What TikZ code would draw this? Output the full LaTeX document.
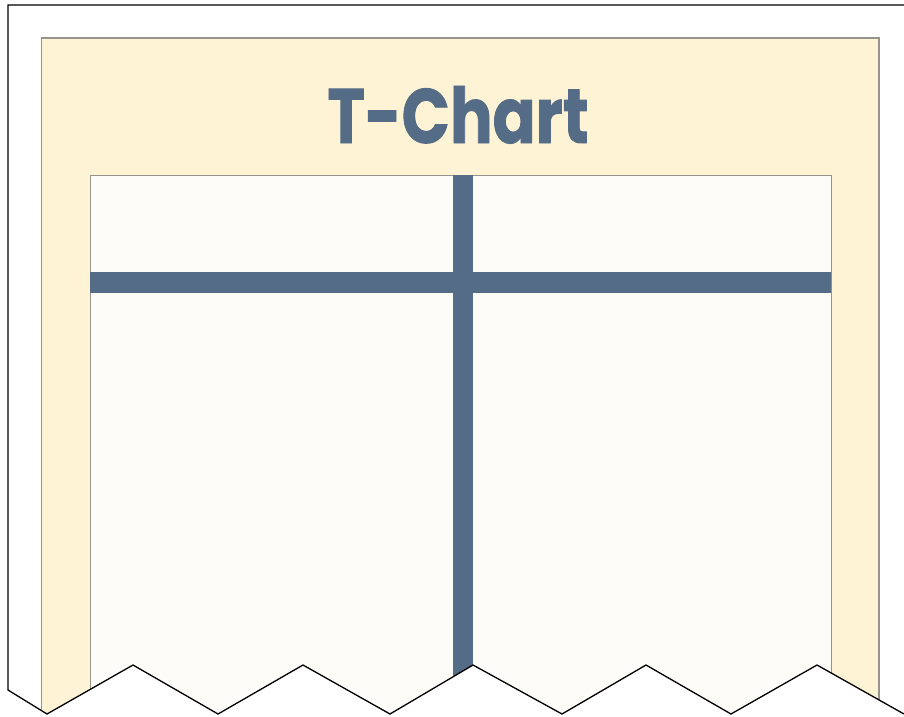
\documentclass[tikz,border=0pt]{standalone}
\usepackage{fontspec}
\newfontfamily\titlefont[BoldFeatures={FakeBold=1.2}]{Poppins}
\definecolor{beige}{RGB}{255,243,214}
\definecolor{paper}{RGB}{254,252,249}
\definecolor{slate}{RGB}{85,108,135}
\definecolor{edgegray}{RGB}{150,146,140}
\tikzset{
  frameline/.style={draw=black, line width=1.3pt, line join=miter},
  panel/.style={fill=beige, draw=edgegray, line width=1.2pt},
  sheet/.style={fill=paper, draw=edgegray, line width=0.8pt},
  bar/.style={fill=slate, draw=none},
  titletext/.style={font=\titlefont\bfseries, inner sep=0pt, text=slate}
}
\begin{document}
\begin{tikzpicture}[x=1pt,y=-1pt]
\useasboundingbox (0,0) rectangle (904,716);
\fill[white] (0,0) rectangle (904,716);
% torn edge outline
\coordinate (tl) at (8,5);
\coordinate (tr) at (905,5);
\def\torn{(8,690) -- (47,714) -- (133,665) -- (218,714) -- (303,665) -- (390,714) -- (473,665) -- (562,714) -- (646,665) -- (731,714) -- (817,665) -- (904,714)}
\begin{scope}
  \clip (tr) -- (tl) -- \torn -- (905,714) -- cycle;
  \path[panel] (41.5,38) rectangle (879,740);
  \path[sheet] (90,175) rectangle (831,740);
  \path[bar] (90,272) rectangle (831,293);
  \path[bar] (452.5,175) rectangle (473,740);
\end{scope}
\draw[frameline] (tr) -- (tl) -- \torn;
% title
\node[titletext, anchor=base] (title) at (458,143)
  {\resizebox{261pt}{57pt}{T-Chart}};
\end{tikzpicture}
\end{document}
